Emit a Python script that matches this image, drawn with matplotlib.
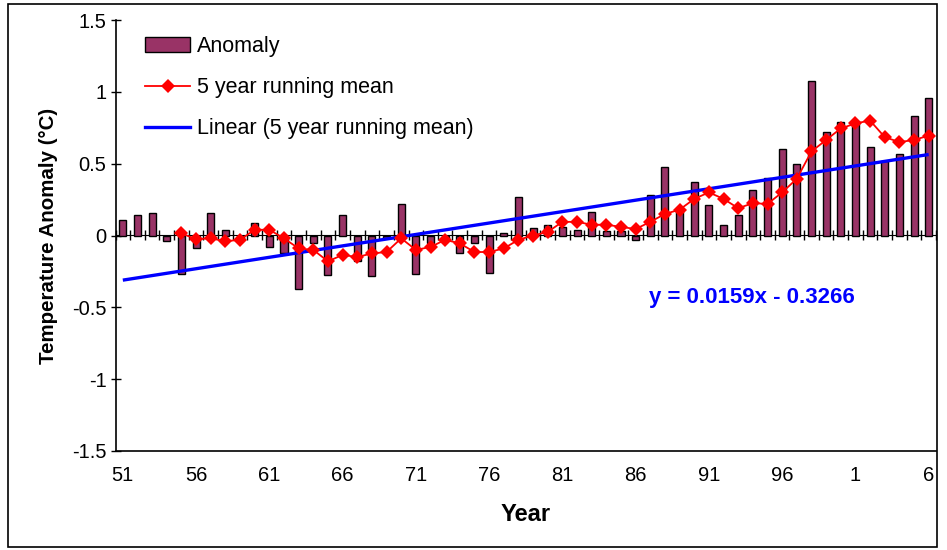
#!/usr/bin/env python3
"""
Annual temperature anomaly 1951-2006 with 5 year running mean and linear trend.
"""

import matplotlib
matplotlib.use("Agg")
import matplotlib.pyplot as plt
from matplotlib.lines import Line2D
from matplotlib.patches import Patch, Rectangle
import numpy as np


# ------------------------------------------------------------------
# Data
# ------------------------------------------------------------------

YEARS = list(range(1951, 2007))

ANOMALY = [
    0.11, 0.14, 0.16, -0.04, -0.27, -0.09, 0.155, 0.04, -0.03, 0.09,
    -0.08, -0.125, -0.37, -0.05, -0.275, 0.14, -0.18, -0.285, -0.02, 0.22,
    -0.27, -0.055, -0.02, -0.12, -0.05, -0.26, 0.016, 0.27, 0.05, 0.075,
    0.06, 0.04, 0.165, 0.03, 0.03, -0.03, 0.28, 0.48, 0.17, 0.375,
    0.21, 0.075, 0.145, 0.32, 0.40, 0.60, 0.50, 1.076, 0.72, 0.79,
    0.78, 0.615, 0.52, 0.57, 0.835, 0.96,
]

# 5 year running mean, first value belongs to 1955
RUNNING_MEAN_START = 1955
RUNNING_MEAN = [
    0.014, -0.025, -0.02, -0.04, -0.03, 0.04, 0.04, -0.02, -0.09, -0.10,
    -0.18, -0.135, -0.15, -0.125, -0.115, -0.02, -0.10, -0.08, -0.03, -0.055,
    -0.115, -0.115, -0.09, -0.03, 0.00, 0.025, 0.095, 0.095, 0.075, 0.075,
    0.06, 0.045, 0.095, 0.15, 0.18, 0.255, 0.30, 0.255, 0.19, 0.225,
    0.22, 0.30, 0.395, 0.585, 0.665, 0.745, 0.78, 0.80, 0.685, 0.65,
    0.665, 0.695,
]

# Linear trendline as printed on the chart (x = 1 .. n categories)
TREND_SLOPE = 0.0159
TREND_INTERCEPT = -0.3266
TREND_LABEL = "y = 0.0159x - 0.3266"

Y_TICKS = [-1.5, -1, -0.5, 0, 0.5, 1, 1.5]
Y_TICK_LABELS = ["-1.5", "-1", "-0.5", "0", "0.5", "1", "1.5"]


# ------------------------------------------------------------------
# Styling
# ------------------------------------------------------------------

plt.rcParams["font.family"] = ["Liberation Sans", "DejaVu Sans"]

BAR_COLOR = "#993366"
MEAN_COLOR = "#FF0000"
TREND_COLOR = "#0000FF"

W, H = 947, 550


def px_x(x):
    return x / W


def px_y(y):
    return 1 - y / H


# ------------------------------------------------------------------

def main():

    fig = plt.figure(figsize=(W / 100, H / 100), dpi=100)

    left, right, top, bottom = 115.5, 936, 20, 451
    ax = fig.add_axes([px_x(left), px_y(bottom),
                       (right - left) / W, (bottom - top) / H])

    idx = np.arange(len(YEARS))

    # bars
    ax.bar(idx, ANOMALY, width=0.48, color=BAR_COLOR,
           edgecolor="black", linewidth=1.0, zorder=2)

    # running mean
    offset = YEARS.index(RUNNING_MEAN_START)
    rm_idx = np.arange(offset, offset + len(RUNNING_MEAN))
    ax.plot(rm_idx, RUNNING_MEAN, color=MEAN_COLOR, linewidth=1.3,
            marker="D", markersize=7, markeredgewidth=0, zorder=4)

    # linear trendline of the running mean
    n = np.array([1, len(YEARS)])
    ax.plot(n - 1, TREND_SLOPE * n + TREND_INTERCEPT, color=TREND_COLOR,
            linewidth=2.4, solid_capstyle="butt", zorder=3)

    ax.text(42.9, -0.435, TREND_LABEL, color=TREND_COLOR, fontsize=16,
            fontweight="bold", ha="center", va="center")

    # axes
    ax.set_xlim(-0.5, len(YEARS) - 0.5)
    ax.set_ylim(-1.5, 1.5)

    ax.set_yticks(Y_TICKS)
    ax.set_yticklabels(Y_TICK_LABELS)
    ax.tick_params(axis="y", direction="inout", length=7, width=1,
                   labelsize=14.5, pad=3)

    label_idx = idx[::5]
    ax.set_xticks(label_idx)
    ax.set_xticklabels([str(YEARS[i] % 100) for i in label_idx])
    ax.tick_params(axis="x", length=0, labelsize=14.5, pad=11)

    # category axis crossing at zero with ticks between categories
    zero_axis = ax.secondary_xaxis(0.5)
    zero_axis.set_xticks(np.arange(-0.5, len(YEARS), 1))
    zero_axis.set_xticklabels([])
    zero_axis.tick_params(direction="inout", length=7, width=1)
    zero_axis.spines["bottom"].set_linewidth(1.2)

    for side in ["left", "bottom"]:
        ax.spines[side].set_linewidth(1.2)
    ax.spines["top"].set_visible(False)
    ax.spines["right"].set_visible(False)

    ax.set_ylabel("Temperature Anomaly (°C)", fontsize=14.8,
                  fontweight="bold", labelpad=10)
    ax.set_xlabel("Year", fontsize=17, fontweight="bold", labelpad=13)

    # legend
    handles = [
        Patch(facecolor=BAR_COLOR, edgecolor="black", linewidth=1.0),
        Line2D([], [], color=MEAN_COLOR, linewidth=1.3, marker="D",
               markersize=7, markeredgewidth=0),
        Line2D([], [], color=TREND_COLOR, linewidth=2.4),
    ]
    labels = ["Anomaly", "5 year running mean",
              "Linear (5 year running mean)"]
    ax.legend(handles, labels, loc="upper left", frameon=False,
              fontsize=15.5, handlelength=2.1, labelspacing=0.93,
              handletextpad=0.33, borderaxespad=0, borderpad=0,
              bbox_to_anchor=((145 - left) / (right - left), 0.962))

    # outer chart border
    fig.patches.append(Rectangle((px_x(8), px_y(547)), (937 - 8) / W,
                                 (547 - 4) / H, transform=fig.transFigure,
                                 fill=False, edgecolor="black",
                                 linewidth=1.2))

    fig.savefig("out.png", dpi=100)
    plt.close(fig)


if __name__ == "__main__":
    main()
